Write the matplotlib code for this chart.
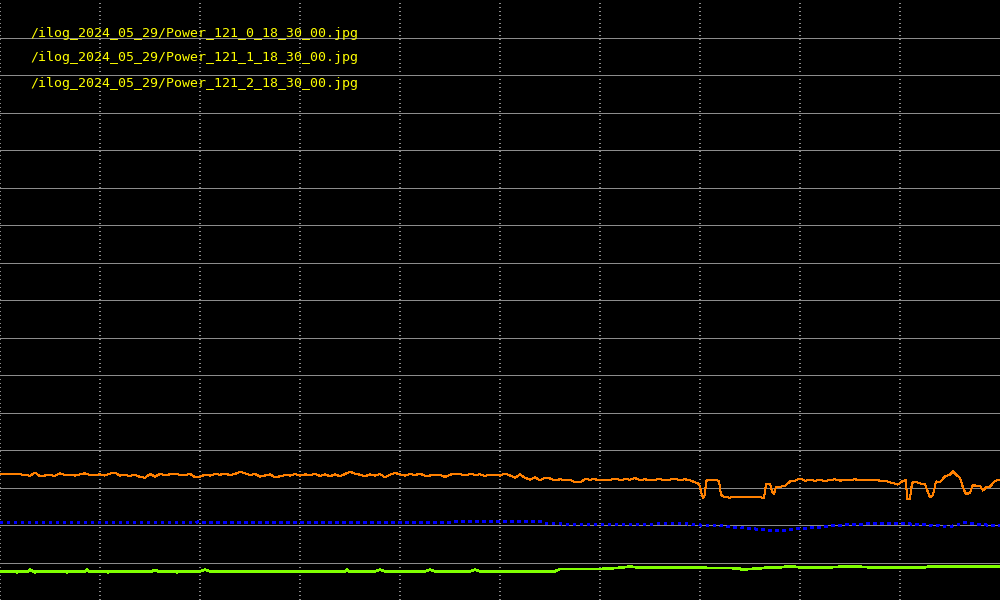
import matplotlib
matplotlib.use("Agg")
import matplotlib.pyplot as plt

# ---------------- data ----------------
labels = [
    "/ilog_2024_05_29/Power_121_0_18_30_00.jpg",
    "/ilog_2024_05_29/Power_121_1_18_30_00.jpg",
    "/ilog_2024_05_29/Power_121_2_18_30_00.jpg",
]

orange_x = [0, 5, 10, 15, 20, 25, 30, 35, 40, 45, 50, 55, 60, 65, 70, 75, 80, 85, 90, 95,
            100, 105, 110, 115, 120, 125, 130, 135, 140, 145, 150, 155, 160, 165,
            170, 175, 180, 185, 190, 195, 200, 205, 210, 215, 220, 225, 230, 235, 240, 245,
            250, 255, 260, 265, 270, 275, 280, 285, 290, 295, 300, 305, 310, 315, 320, 325, 330,
            335, 340, 345, 350, 355, 360, 365, 370, 375, 380, 385, 390, 395, 400, 405, 410,
            415, 420, 425, 430, 435, 440, 445, 450, 455, 460, 465, 470, 475, 480, 485, 490, 495,
            500, 505, 510, 515, 520, 525, 530, 535, 540, 545, 550, 555, 560, 565, 570, 575,
            580, 585, 590, 595, 600, 605, 610, 615, 620, 625, 630, 635, 640, 645, 650, 655,
            660, 665, 670, 675, 680, 685, 690, 695, 698, 700, 701, 703, 705, 706, 710, 715,
            719, 721, 725, 730, 735, 740, 745, 750, 755, 760, 764, 766, 770, 772, 774, 776,
            780, 785, 790, 795, 800, 805, 810, 815, 820, 825,
            830, 835, 840, 845, 850, 855, 860, 865, 870, 875, 880, 885, 890, 895, 898, 900,
            903, 906, 907, 910, 912, 915, 920, 925, 930, 933, 936, 940, 945, 950, 953, 956,
            960, 963, 966, 970, 973, 976, 980, 983, 986, 990, 995, 1000]
orange_y = [168, 168, 167.5, 167.5, 167.5, 167, 165.5, 170, 165, 166, 166.5, 165.5, 169, 166.5, 167, 166, 167.5, 169, 166.5, 167,
            167.5, 166, 168.5, 169.5, 166, 166.5, 165.5, 167, 164, 163, 168, 164.5, 168, 166.5,
            167.5, 168, 167, 166.5, 168, 164, 164.5, 167, 166, 168, 167, 168.5, 166.5, 168, 171, 169,
            166.5, 168, 164.5, 166, 167.5, 163.5, 165, 166.5, 166, 168, 166, 167.5, 166.5, 168, 165.5, 167.5, 165,
            167.5, 165, 168, 171, 168.5, 167, 165, 167.5, 166, 168, 163.5, 167, 169.5, 167.5, 166, 168,
            166.5, 168.5, 165.5, 166, 166.5, 167, 164, 167, 168.5, 168, 166, 168, 167, 167.5, 165.5, 167, 166.5,
            166, 168.5, 166, 163, 167.5, 163, 160.5, 163.5, 159.5, 163, 162, 159.5, 161, 160, 160.5, 157,
            157, 161, 160.5, 161, 159.5, 160.5, 160, 162, 160, 161, 160.5, 162.5, 160, 161, 159.5, 160.5,
            161, 160, 160.5, 161.5, 160, 161, 159.5, 157, 155.5, 152, 144, 136, 140, 159, 160.5, 160,
            159, 140, 137, 136.5, 137.5, 137, 137.5, 137, 137.5, 137, 136, 154, 155, 145, 141, 151,
            151, 152, 158, 159, 162, 159, 160, 159, 160, 158.5,
            160, 161, 159, 160.5, 160, 161, 159.5, 160.5, 159.5, 160.5, 159, 159, 157, 155, 154, 156,
            159, 159.5, 135, 135, 156, 158, 155.5, 154, 137, 140, 158, 157, 165, 167, 171.5, 167,
            163, 150, 141, 143, 154, 152, 152, 146, 150, 151, 159, 160]

blue_x = [0, 50, 100, 150, 195, 200, 205, 250, 300, 350, 400, 450, 455, 500, 540, 545,
          560, 565, 600, 650, 655, 690, 700, 720, 740, 760, 770, 785, 800, 815, 830, 850,
          870, 900, 920, 935, 950, 960, 965, 975, 990, 1000]
blue_y = [103.6, 103.6, 103.6, 103.6, 103.6, 104.4, 103.6, 103.6, 103.6, 103.6, 103.6, 103.6, 104.9, 104.9, 104.9, 101.7,
          101.7, 100.4, 100.4, 100.4, 101.7, 101.3, 100, 99, 96.4, 94.2, 92.9, 93.3, 95.1, 96.4, 98.7, 100.4,
          101.7, 101.7, 101, 99, 97.8, 101, 103.6, 101.3, 99.6, 99.6]

green_x = [0, 15, 17, 19, 28, 30, 33, 35, 37, 65, 67, 69, 85, 87, 89, 106, 108, 110, 152, 155, 158,
           175, 177, 179, 200, 205, 210, 230, 330, 345, 347, 349, 375, 380, 385, 410, 425, 430, 435,
           460, 470, 475, 480, 520, 555, 560, 600, 620, 630, 640, 700, 740, 741, 760, 770, 780,
           790, 800, 830, 850, 870, 925, 930, 1000]
green_y = [38.3, 38.3, 36.5, 38.3, 38.3, 40.3, 38.3, 36.5, 38.3, 38.3, 36.5, 38.3, 38.3, 40.3, 38.3, 38.3, 36.5, 38.3, 38.3, 40.3, 38.3,
           38.3, 36.5, 38.3, 38.3, 40.5, 38.3, 38.3, 38.3, 38.3, 40.3, 38.3, 38.3, 40.3, 38.3, 38.3, 38.3, 40.3, 38.3,
           38.3, 38.3, 40.3, 38.3, 38.3, 38.3, 41.3, 41.3, 43, 44.6, 43, 43, 42.3, 40.5, 42.3, 43.6, 43.6,
           45, 43.6, 43.6, 45, 43.6, 43.6, 45, 45]

# ---------------- figure ----------------
fig = plt.figure(figsize=(10, 6), dpi=100, facecolor="black")
ax = fig.add_axes([0, 0, 1, 1], facecolor="black")

ax.plot(orange_x, orange_y, color="#ff8000", lw=0.75, zorder=3, antialiased=False)
ax.plot(blue_x, blue_y, color="#0000ff", lw=1.6, linestyle=(0, (0.9, 2.1)),
        dash_capstyle="butt", zorder=3, antialiased=False)
ax.plot(green_x, green_y, color="#80ff00", lw=1.2, zorder=3, antialiased=False)

ax.set_xlim(0, 1000)
ax.set_ylim(0, 800)
ax.set_xticks(range(0, 1000, 100))
ax.set_yticks(range(50, 800, 50))
ax.tick_params(length=0, labelleft=False, labelbottom=False)
for s in ax.spines.values():
    s.set_visible(False)
ax.set_axisbelow(True)
ax.grid(axis="y", color="#8c8c8c", lw=0.6, linestyle="-", antialiased=False)
ax.grid(axis="x", color="#8c8c8c", lw=1.44, linestyle=(0, (0.5, 1.5)), antialiased=False)

for i, lab in enumerate(labels):
    ax.text(30 / 1000, 1 - (33 + 25 * i) / 600, lab, transform=ax.transAxes,
            color="#ffff00", fontsize=9.5, family="DejaVu Sans Mono",
            va="center", ha="left", zorder=4)

fig.savefig("out.png", dpi=100, facecolor="black")
